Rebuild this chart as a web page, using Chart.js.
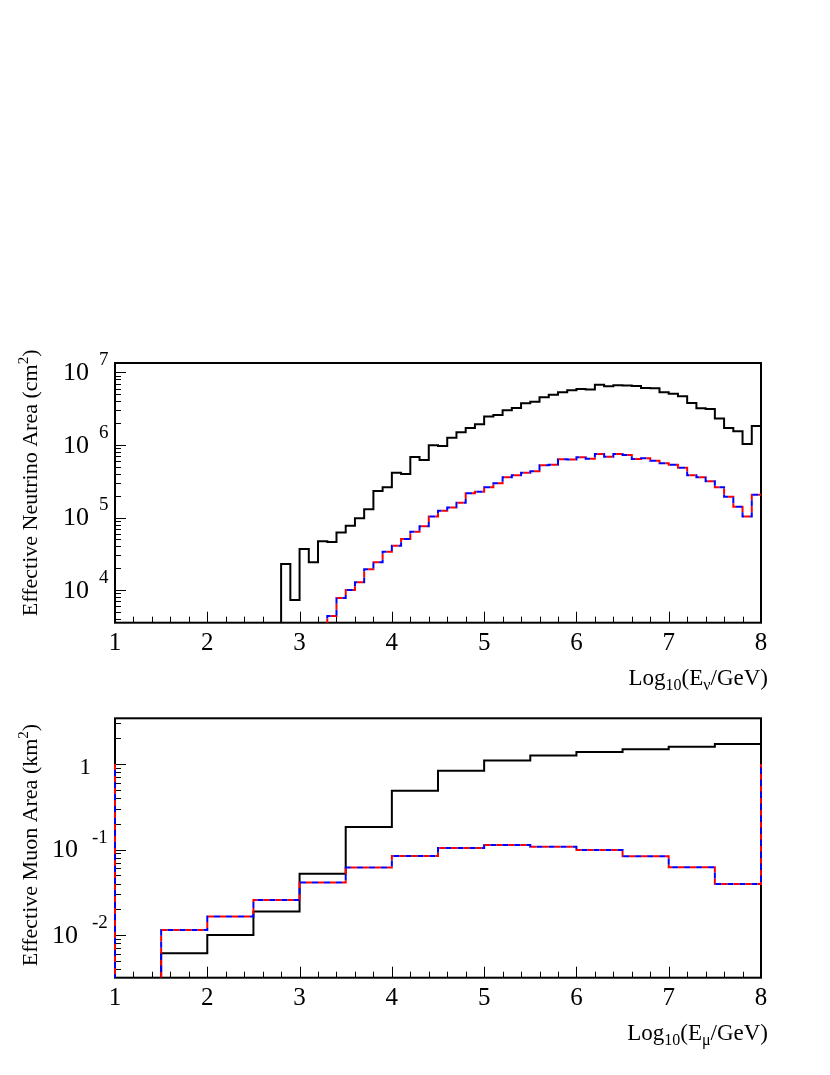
<!DOCTYPE html>
<html>
<head>
<meta charset="utf-8">
<script src="https://cdn.jsdelivr.net/npm/chart.js@4.4.1/dist/chart.umd.min.js"></script>
<style>
  body { margin: 0; background: #fff; width: 830px; height: 1075px; position: relative; overflow: hidden; }
  canvas { position: absolute; left: 0; }
</style>
</head>
<body>
<canvas id="nuChart" width="830" height="380" style="top:330px"></canvas>
<canvas id="muChart" width="830" height="375" style="top:700px"></canvas>
<script>
// ================================
// data
// ================================

// neutrino area : bin edges log10(E/GeV), 0.1 wide
const nuEdges = [
  1.0, 1.1, 1.2, 1.3, 1.4, 1.5, 1.6, 1.7, 1.8, 1.9,
  2.0, 2.1, 2.2, 2.3, 2.4, 2.5, 2.6, 2.7, 2.8, 2.9,
  3.0, 3.1, 3.2, 3.3, 3.4, 3.5, 3.6, 3.7, 3.8, 3.9,
  4.0, 4.1, 4.2, 4.3, 4.4, 4.5, 4.6, 4.7, 4.8, 4.9,
  5.0, 5.1, 5.2, 5.3, 5.4, 5.5, 5.6, 5.7, 5.8, 5.9,
  6.0, 6.1, 6.2, 6.3, 6.4, 6.5, 6.6, 6.7, 6.8, 6.9,
  7.0, 7.1, 7.2, 7.3, 7.4, 7.5, 7.6, 7.7, 7.8, 7.9, 8.0
];

// cm^2, all events (black)
const nuAll = [
  0, 0, 0, 0, 0, 0, 0, 0, 0, 0,
  0, 0, 0, 0, 0, 0, 0, 0, 2.29e4, 7.3e3,
  3.68e4, 2.41e4, 4.7e4, 4.6e4, 6.2e4, 7.7e4, 9.8e4, 1.30e5, 2.32e5, 2.61e5,
  4.15e5, 3.98e5, 6.8e5, 6.2e5, 9.9e5, 9.7e5, 1.26e6, 1.50e6, 1.72e6, 1.93e6,
  2.46e6, 2.59e6, 3.01e6, 3.24e6, 3.76e6, 3.95e6, 4.55e6, 4.94e6, 5.33e6, 5.68e6,
  5.92e6, 5.80e6, 6.79e6, 6.46e6, 6.65e6, 6.58e6, 6.52e6, 6.11e6, 6.05e6, 5.33e6,
  5.10e6, 4.70e6, 3.79e6, 3.20e6, 3.14e6, 2.31e6, 1.72e6, 1.55e6, 1.03e6, 1.83e6
];

// cm^2, after cuts (red / blue, they sit on top of each other)
const nuCutRed = [
  0, 0, 0, 0, 0, 0, 0, 0, 0, 0,
  0, 0, 0, 0, 0, 0, 0, 0, 0, 0,
  0, 0, 0, 4.4e3, 7.8e3, 1.0e4, 1.28e4, 1.93e4, 2.41e4, 3.38e4,
  4.08e4, 5.05e4, 6.36e4, 7.57e4, 1.03e5, 1.24e5, 1.37e5, 1.60e5, 2.16e5, 2.27e5,
  2.61e5, 2.97e5, 3.58e5, 3.82e5, 4.15e5, 4.34e5, 5.25e5, 5.35e5, 6.35e5, 6.30e5,
  6.76e5, 6.45e5, 7.50e5, 6.90e5, 7.50e5, 7.30e5, 6.40e5, 6.55e5, 6.07e5, 5.59e5,
  5.35e5, 4.86e5, 3.82e5, 3.58e5, 3.15e5, 2.61e5, 1.94e5, 1.41e5, 1.03e5, 2.06e5
];
const nuCutBlue = [
  0, 0, 0, 0, 0, 0, 0, 0, 0, 0,
  0, 0, 0, 0, 0, 0, 0, 0, 0, 0,
  0, 0, 0, 4.4e3, 7.8e3, 1.0e4, 1.28e4, 1.93e4, 2.41e4, 3.38e4,
  4.08e4, 5.05e4, 6.36e4, 7.57e4, 1.03e5, 1.24e5, 1.37e5, 1.60e5, 2.16e5, 2.27e5,
  2.61e5, 2.97e5, 3.58e5, 3.82e5, 4.15e5, 4.34e5, 5.25e5, 5.35e5, 6.35e5, 6.30e5,
  6.76e5, 6.45e5, 7.50e5, 6.90e5, 7.50e5, 7.30e5, 6.40e5, 6.55e5, 6.07e5, 5.59e5,
  5.35e5, 4.86e5, 3.82e5, 3.58e5, 3.15e5, 2.61e5, 1.94e5, 1.41e5, 1.03e5, 2.06e5
];

// muon area : bin edges, 0.5 wide
const muEdges = [1.0, 1.5, 2.0, 2.5, 3.0, 3.5, 4.0, 4.5, 5.0, 5.5, 6.0, 6.5, 7.0, 7.5, 8.0];

// km^2
const muAll = [0, 0.0061, 0.0100, 0.0188, 0.0519, 0.184, 0.487, 0.835, 1.10, 1.26, 1.39, 1.49, 1.60, 1.72];
const muCutRed = [0, 0.0114, 0.0164, 0.0257, 0.0410, 0.0615, 0.0840, 0.104, 0.113, 0.108, 0.099, 0.0835, 0.0620, 0.0395];
const muCutBlue = [0, 0.0114, 0.0164, 0.0257, 0.0410, 0.0615, 0.0840, 0.104, 0.113, 0.108, 0.099, 0.0835, 0.0620, 0.0395];
// the cut histograms also have a vertical line at both ends of the axis
const muCutEdge = [1.0, 1.0];

const xTickLabels = ["1", "2", "3", "4", "5", "6", "7", "8"];
const nuDecades = [4, 5, 6, 7];
const muDecades = [-2, -1, 0];

// ================================
// helpers
// ================================
const FONT = "'Liberation Serif', 'Times New Roman', serif";

// histogram -> points for a stepped line (value of bin i sits at its low edge)
function histPoints(edges, values, floor) {
  const pts = values.map((v, i) => ({ x: edges[i], y: v > 0 ? v : floor }));
  const last = values[values.length - 1];
  pts.push({ x: edges[edges.length - 1], y: last > 0 ? last : floor });
  return pts;
}

function withEdges(pts, edges, heights) {
  return [{ x: edges[0], y: heights[0] }, ...pts, { x: edges[edges.length - 1], y: heights[1] }];
}

// draw a run of text pieces, some of them sub/superscript
function drawRich(ctx, parts, x, y, align) {
  ctx.textAlign = "left";
  const widths = parts.map(p => { ctx.font = p.size + "px " + FONT; return ctx.measureText(p.t).width; });
  const total = widths.reduce((a, b) => a + b, 0);
  let cx = align === "right" ? x - total : align === "center" ? x - total / 2 : x;
  parts.forEach((p, i) => {
    ctx.font = p.size + "px " + FONT;
    ctx.fillText(p.t, cx, y + (p.dy || 0));
    cx += widths[i];
  });
}

// ROOT-like frame, inward ticks, labels and titles
const rootAxes = {
  id: "rootAxes",
  beforeDatasetsDraw(chart) {
    const { ctx, chartArea: a, scales: { x, y } } = chart;
    ctx.save();
    ctx.strokeStyle = "#000";

    // x ticks
    ctx.lineWidth = 1;
    ctx.beginPath();
    for (let k = 0; k <= 35; k++) {
      const v = 1 + k * 0.2;
      const px = Math.round(x.getPixelForValue(v)) + 0.5;
      const len = k % 5 === 0 ? 11 : 6;
      ctx.moveTo(px, a.bottom);
      ctx.lineTo(px, a.bottom - len);
    }
    // y ticks (log)
    const d0 = Math.floor(Math.log10(y.min)), d1 = Math.ceil(Math.log10(y.max));
    for (let d = d0; d <= d1; d++) {
      for (let m = 1; m <= 9; m++) {
        const v = m * Math.pow(10, d);
        if (v < y.min || v > y.max) continue;
        const py = Math.round(y.getPixelForValue(v)) + 0.5;
        ctx.moveTo(a.left, py);
        ctx.lineTo(a.left + (m === 1 ? 11 : 6), py);
      }
    }
    ctx.stroke();

    // frame
    ctx.lineWidth = 2;
    ctx.strokeRect(a.left, a.top, a.right - a.left, a.bottom - a.top);
    ctx.restore();
  },
  afterDatasetsDraw(chart, args, opts) {
    const { ctx, chartArea: a, scales: { x, y } } = chart;
    ctx.save();
    ctx.fillStyle = "#000";

    // x tick labels
    ctx.textBaseline = "middle";
    ctx.textAlign = "center";
    ctx.font = "25px " + FONT;
    xTickLabels.forEach(l => {
      ctx.fillText(l, x.getPixelForValue(Number(l)), a.bottom + 21);
    });

    // y tick labels: 10^d
    opts.decades.forEach(d => {
      const py = y.getPixelForValue(Math.pow(10, d));
      if (d === 0) {
        ctx.font = "23px " + FONT;
        ctx.textAlign = "right";
        ctx.fillText("1", opts.oneRight, py + 4);
        return;
      }
      ctx.textAlign = "left";
      ctx.font = "19px " + FONT;
      ctx.fillText(String(d), opts.expLeft, py - 12);
      ctx.font = "26px " + FONT;
      ctx.textAlign = "right";
      ctx.fillText("10", opts.tenRight, py + 1);
    });

    // x title
    ctx.textBaseline = "alphabetic";
    drawRich(ctx, opts.xTitle, a.right + 7, a.bottom + 62, "right");

    // y title (rotated)
    ctx.save();
    ctx.translate(opts.yTitleX, (a.top + a.bottom) / 2 - opts.yTitleShift);
    ctx.rotate(-Math.PI / 2);
    drawRich(ctx, opts.yTitle, 0, 0, "center");
    ctx.restore();

    ctx.restore();
  }
};

function stepSet(data, color, dash, offset) {
  return {
    data: data,
    stepped: "before",
    borderColor: color,
    borderWidth: 2,
    borderDash: dash,
    borderDashOffset: offset,
    pointRadius: 0,
    fill: false,
    clip: { left: 2, right: 2, top: 0, bottom: 0 } // let the edge lines sit on the frame
  };
}

function makeChart(id, datasets, yMin, yMax, pad, axesOpts) {
  return new Chart(document.getElementById(id).getContext("2d"), {
    type: "line",
    data: { datasets: datasets },
    options: {
      responsive: false,
      animation: false,
      layout: { padding: pad },
      plugins: { legend: { display: false }, tooltip: { enabled: false }, rootAxes: axesOpts },
      scales: {
        x: { type: "linear", min: 1, max: 8, display: false },
        y: { type: "logarithmic", min: yMin, max: yMax, display: false }
      }
    },
    plugins: [rootAxes]
  });
}

// ================================
// top : neutrino area
// ================================
makeChart("nuChart", [
  stepSet(histPoints(nuEdges, nuCutBlue, 1), "#0000ff", [6, 6], 6),
  stepSet(histPoints(nuEdges, nuCutRed, 1), "#ff0000", [6, 6], 0),
  stepSet(histPoints(nuEdges, nuAll, 1), "#000000", [], 0)
], Math.pow(10, 3.55), Math.pow(10, 7.13),
  { left: 115, right: 69, top: 33, bottom: 87.3 },
  {
    decades: nuDecades, tenRight: 89, expLeft: 99, oneRight: 90,
    yTitleX: 37, yTitleShift: 10,
    xTitle: [
      { t: "Log", size: 23 }, { t: "10", size: 16, dy: 5 }, { t: "(E", size: 23 },
      { t: "\u03bd", size: 16, dy: 5 }, { t: "/GeV)", size: 23 }
    ],
    yTitle: [
      { t: "Effective Neutrino Area (cm", size: 22 }, { t: "2", size: 15, dy: -9 }, { t: ")", size: 22 }
    ]
  });

// ================================
// bottom : muon area
// ================================
makeChart("muChart", [
  stepSet(withEdges(histPoints(muEdges, muCutBlue, 1e-4), muEdges, muCutEdge), "#0000ff", [6, 6], 6),
  stepSet(withEdges(histPoints(muEdges, muCutRed, 1e-4), muEdges, muCutEdge), "#ff0000", [6, 6], 0),
  stepSet(histPoints(muEdges, muAll, 1e-4), "#000000", [], 0)
], Math.pow(10, -2.5), Math.pow(10, 0.536),
  { left: 115, right: 69, top: 18.3, bottom: 97.3 },
  {
    decades: muDecades, tenRight: 78, expLeft: 92, oneRight: 91,
    yTitleX: 37, yTitleShift: 3,
    xTitle: [
      { t: "Log", size: 23 }, { t: "10", size: 16, dy: 5 }, { t: "(E", size: 23 },
      { t: "\u03bc", size: 16, dy: 5 }, { t: "/GeV)", size: 23 }
    ],
    yTitle: [
      { t: "Effective Muon Area (km", size: 22 }, { t: "2", size: 15, dy: -9 }, { t: ")", size: 22 }
    ]
  });
</script>
</body>
</html>
